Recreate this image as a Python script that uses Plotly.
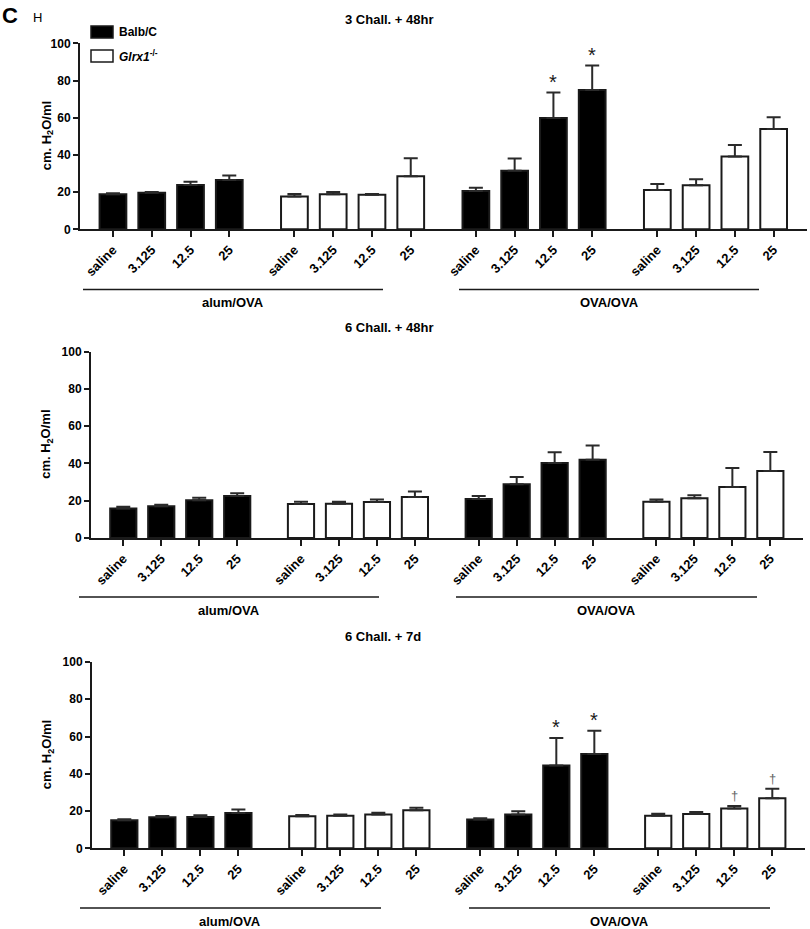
import plotly.graph_objects as go

W, H = 810, 929

doses = ["saline", "3.125", "12.5", "25"]
panel_titles = ["3 Chall. + 48hr", "6 Chall. + 48hr", "6 Chall. + 7d"]
group_labels = ["alum/OVA", "OVA/OVA"]
legend_labels = ["Balb/C", "<i>Glrx1</i><sup>-/-</sup>"]

# Panel 1: 3 Chall. + 48hr
p1_balb_alum = [18.8, 19.7, 23.8, 26.5]
p1_balb_alum_sem = [0.6, 0.4, 1.8, 2.4]
p1_glrx_alum = [17.6, 18.8, 18.6, 28.5]
p1_glrx_alum_sem = [1.4, 1.3, 0.4, 9.7]
p1_balb_ova = [20.6, 31.5, 59.9, 74.9]
p1_balb_ova_sem = [1.8, 6.5, 13.6, 13.1]
p1_glrx_ova = [21.1, 23.7, 39.2, 53.9]
p1_glrx_ova_sem = [3.3, 3.2, 6.1, 6.3]

# Panel 2: 6 Chall. + 48hr
p2_balb_alum = [15.9, 17.0, 20.2, 22.5]
p2_balb_alum_sem = [0.9, 0.9, 1.4, 1.5]
p2_glrx_alum = [18.2, 18.4, 19.3, 22.0]
p2_glrx_alum_sem = [1.3, 1.1, 1.3, 3.0]
p2_balb_ova = [20.9, 28.8, 40.3, 42.0]
p2_balb_ova_sem = [1.6, 3.9, 5.7, 7.7]
p2_glrx_ova = [19.5, 21.3, 27.4, 36.0]
p2_glrx_ova_sem = [1.1, 1.6, 10.2, 10.2]

# Panel 3: 6 Chall. + 7d
p3_balb_alum = [15.0, 16.6, 16.8, 19.0]
p3_balb_alum_sem = [0.6, 0.8, 0.9, 1.8]
p3_glrx_alum = [17.2, 17.5, 18.2, 20.4]
p3_glrx_alum_sem = [0.7, 0.6, 0.9, 1.4]
p3_balb_ova = [15.4, 18.2, 44.5, 50.6]
p3_balb_ova_sem = [0.7, 1.7, 14.7, 12.5]
p3_glrx_ova = [17.5, 18.4, 21.3, 26.8]
p3_glrx_ova_sem = [1.1, 1.1, 1.4, 5.2]

# significance marks: (group index, dose index, symbol)
p1_marks = [(2, 2, "*"), (2, 3, "*")]
p2_marks = []
p3_marks = [(2, 2, "*"), (2, 3, "*"), (3, 2, "\u2020"), (3, 3, "\u2020")]

panels = [
    dict(means=[p1_balb_alum, p1_glrx_alum, p1_balb_ova, p1_glrx_ova],
         sems=[p1_balb_alum_sem, p1_glrx_alum_sem, p1_balb_ova_sem, p1_glrx_ova_sem],
         marks=p1_marks,
         xpx=(80, 807), ypx=(43.3, 229.3), title_y=19,
         lines=[(83, 383), (459, 759)], line_y=289.5),
    dict(means=[p2_balb_alum, p2_glrx_alum, p2_balb_ova, p2_glrx_ova],
         sems=[p2_balb_alum_sem, p2_glrx_alum_sem, p2_balb_ova_sem, p2_glrx_ova_sem],
         marks=p2_marks,
         xpx=(91, 803), ypx=(351.7, 538), title_y=328,
         lines=[(79, 379), (456, 757)], line_y=597),
    dict(means=[p3_balb_alum, p3_glrx_alum, p3_balb_ova, p3_glrx_ova],
         sems=[p3_balb_alum_sem, p3_glrx_alum_sem, p3_balb_ova_sem, p3_glrx_ova_sem],
         marks=p3_marks,
         xpx=(92, 805), ypx=(662, 848.3), title_y=636,
         lines=[(80, 381), (469, 770)], line_y=908),
]

GROUP_STEP = 4.68
BAR_W = 0.69
fills = ["black", "white", "black", "white"]
FONT = "Liberation Sans, Arial, sans-serif"
INK = "#1a1a1a"


def px_x(p):
    return p / W


def px_y(p):
    return 1 - p / H


fig = go.Figure()
annotations = []
shapes = []

for k, pan in enumerate(panels):
    suffix = "" if k == 0 else str(k + 1)
    xa, ya = "x" + suffix, "y" + suffix
    tickvals, ticktext = [], []
    for g in range(4):
        xs = [g * GROUP_STEP + i for i in range(4)]
        tickvals += xs
        ticktext += doses
        fig.add_trace(go.Bar(
            x=xs, y=pan["means"][g], width=BAR_W,
            marker=dict(color=fills[g], line=dict(color=INK, width=2)),
            error_y=dict(type="data", array=pan["sems"][g], arrayminus=[0] * 4,
                         symmetric=False, thickness=2, width=7, color="#2a2a2a"),
            xaxis=xa, yaxis=ya, showlegend=False, hoverinfo="skip",
        ))
    for (g, i, sym) in pan["marks"]:
        top = pan["means"][g][i] + pan["sems"][g][i]
        is_star = sym == "*"
        annotations.append(dict(
            x=g * GROUP_STEP + i, y=top, xref=xa, yref=ya,
            text=sym, showarrow=False, yanchor="bottom",
            yshift=-2 if is_star else 1,
            font=dict(family=FONT, size=20 if is_star else 13,
                      color=INK if is_star else "#666666"),
        ))
    x0, x1 = pan["xpx"]
    yt, yb = pan["ypx"]
    fig.update_layout(**{
        "xaxis" + suffix: dict(
            domain=[px_x(x0), px_x(x1)], anchor=ya, range=[-0.85, 17.9],
            tickvals=tickvals, ticktext=ticktext, tickangle=-45,
            showline=True, linecolor=INK, linewidth=2, ticks="outside",
            ticklen=6, tickwidth=2, tickcolor=INK, showgrid=False, zeroline=False,
            tickfont=dict(family=FONT, size=13, color="black", weight="bold"),
            fixedrange=True,
        ),
        "yaxis" + suffix: dict(
            domain=[px_y(yb), px_y(yt)], anchor=xa, range=[0, 100],
            tickvals=[0, 20, 40, 60, 80, 100],
            showline=True, linecolor=INK, linewidth=2, ticks="outside",
            ticklen=5, tickwidth=2, tickcolor=INK, showgrid=False, zeroline=False,
            tickfont=dict(family=FONT, size=12, color="black", weight="bold"),
            fixedrange=True,
        ),
    })
    # panel title
    annotations.append(dict(
        x=px_x(343), y=px_y(pan["title_y"]), xref="paper", yref="paper",
        text=panel_titles[k], showarrow=False, xanchor="left", yanchor="middle",
        font=dict(family=FONT, size=13, color="black", weight="bold"),
    ))
    # y-axis title
    annotations.append(dict(
        x=px_x(47), y=px_y((yt + yb) / 2), xref="paper", yref="paper",
        text="cm. H<sub>2</sub>O/ml", showarrow=False, textangle=-90,
        xanchor="center", yanchor="middle",
        font=dict(family=FONT, size=13, color="black", weight="bold"),
    ))
    # group underlines and labels
    ly = pan["line_y"]
    for j, (lx0, lx1) in enumerate(pan["lines"]):
        shapes.append(dict(type="line", xref="paper", yref="paper",
                           x0=px_x(lx0), x1=px_x(lx1), y0=px_y(ly), y1=px_y(ly),
                           line=dict(color=INK, width=1.5)))
        annotations.append(dict(
            x=px_x((lx0 + lx1) / 2), y=px_y(ly + 13), xref="paper", yref="paper",
            text=group_labels[j], showarrow=False, xanchor="center", yanchor="middle",
            font=dict(family=FONT, size=13, color="black", weight="bold"),
        ))

# legend (manual)
for j, (fc, yy0, yy1) in enumerate([("black", 26, 38), ("white", 50, 62)]):
    shapes.append(dict(type="rect", xref="paper", yref="paper",
                       x0=px_x(91), x1=px_x(113), y0=px_y(yy1), y1=px_y(yy0),
                       fillcolor=fc, line=dict(color=INK, width=1.5)))
    annotations.append(dict(
        x=px_x(117), y=px_y((yy0 + yy1) / 2), xref="paper", yref="paper",
        text=legend_labels[j], showarrow=False, xanchor="left", yanchor="middle",
        font=dict(family=FONT, size=12, color="black", weight="bold"),
    ))

# panel letters
annotations.append(dict(x=0, y=px_y(16), xref="paper", yref="paper", text="<b>C</b>",
                        showarrow=False, xanchor="left", yanchor="middle",
                        font=dict(family=FONT, size=22, color="black")))
annotations.append(dict(x=px_x(31), y=px_y(18), xref="paper", yref="paper", text="H",
                        showarrow=False, xanchor="left", yanchor="middle",
                        font=dict(family=FONT, size=13, color="black")))

fig.update_layout(
    width=W, height=H,
    margin=dict(l=0, r=0, t=0, b=0, autoexpand=False),
    paper_bgcolor="white", plot_bgcolor="white",
    barmode="overlay", showlegend=False,
    annotations=annotations, shapes=shapes,
)

fig.write_html(
    "out.html",
    config={"displayModeBar": False, "staticPlot": True},
    post_script="document.body.style.margin='0';document.body.style.overflow='hidden';",
)
